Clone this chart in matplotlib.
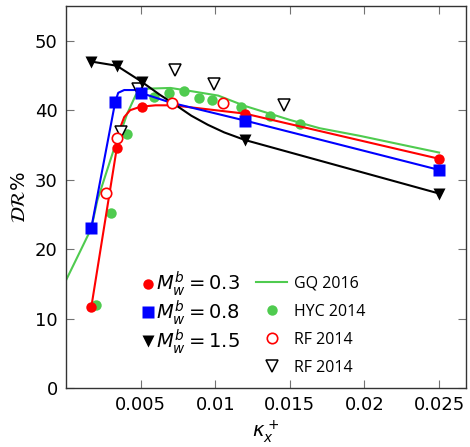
import matplotlib

matplotlib.use('Agg')

import matplotlib.pyplot as plt
from matplotlib.lines import Line2D

# simulation results, markers
kx = [0.0017, 0.0034, 0.0051, 0.0120, 0.0250]
dr_m03 = [11.7, 34.5, 40.4, 39.4, 33.0]
kx_m08 = [0.0017, 0.0033, 0.0050, 0.0120, 0.0250]
dr_m08 = [23.1, 41.2, 42.5, 38.5, 31.4]
dr_m15 = [47.0, 46.4, 44.0, 35.7, 28.0]

# fitted curves through the simulation results
curve_m03_x = [0.0017, 0.0034, 0.0036, 0.0039, 0.0043, 0.0050, 0.0060, 0.0070, 0.0080, 0.0120, 0.0250]
curve_m03_y = [11.7, 34.5, 37.3, 39.0, 40.0, 40.5, 40.7, 40.7, 40.5, 39.5, 33.0]
curve_m08_x = [0.0017, 0.0033, 0.0035, 0.0039, 0.0047, 0.0050, 0.0070, 0.0120, 0.0250]
curve_m08_y = [23.1, 41.2, 42.5, 42.9, 42.9, 42.5, 41.1, 38.5, 31.4]
curve_m15_x = [0.0017, 0.0034, 0.0050, 0.0063, 0.0071, 0.0084, 0.0095, 0.0106, 0.0120, 0.0250]
curve_m15_y = [47.0, 46.4, 44.2, 42.2, 41.1, 39.2, 37.9, 36.8, 35.7, 28.0]

# GQ 2016
gq_x = [0.0, 0.0010, 0.0017, 0.0021, 0.0027, 0.0032, 0.0037, 0.0041, 0.0047, 0.0055,
        0.0070, 0.0085, 0.0102, 0.0120, 0.0150, 0.0170, 0.0197, 0.0230, 0.0250]
gq_y = [15.5, 19.9, 23.0, 27.0, 31.0, 34.3, 37.0, 39.5, 42.3, 43.1,
        43.2, 42.7, 42.1, 40.6, 38.6, 37.4, 36.3, 34.8, 33.9]

# HYC 2014
hyc_x = [0.0020, 0.0030, 0.0041, 0.0059, 0.0069, 0.0079, 0.0089, 0.0098, 0.0117, 0.0137, 0.0157]
hyc_y = [12.0, 25.2, 36.5, 41.9, 42.5, 42.8, 41.8, 41.5, 40.4, 39.2, 38.0]

# RF 2014 (open circles)
rfc_x = [0.00266, 0.0034, 0.0071, 0.0105]
rfc_y = [28.1, 36.0, 41.1, 41.1]

# RF 2014 (open triangles)
rft_x = [0.0037, 0.0048, 0.0073, 0.0099, 0.0146]
rft_y = [36.8, 43.1, 45.8, 43.8, 40.8]

xticks = [0.005, 0.01, 0.015, 0.02, 0.025]
xticklabels = ['0.005', '0.01', '0.015', '0.02', '0.025']
yticks = [0, 10, 20, 30, 40, 50]

GREEN = '#4fcb4f'
plt.rcParams['mathtext.fontset'] = 'dejavusans'

fig = plt.figure(figsize=(4.7, 4.47), dpi=100)
ax = fig.add_axes([0.1404, 0.132, 0.851, 0.8546])

lw = 1.5
ax.plot(gq_x, gq_y, color=GREEN, lw=lw, zorder=2)
ax.plot(hyc_x, hyc_y, 'o', color=GREEN, ms=7.5, mec='none', zorder=3)
ax.plot(curve_m03_x, curve_m03_y, color='red', lw=lw, zorder=4)
ax.plot(curve_m08_x, curve_m08_y, color='blue', lw=lw, zorder=4)
ax.plot(curve_m15_x, curve_m15_y, color='black', lw=lw, zorder=4)
ax.plot(rft_x, rft_y, 'v', color='black', mfc='white', mew=1.1, ms=8.5, zorder=5)
ax.plot(rfc_x, rfc_y, 'o', color='red', mfc='white', mew=1.2, ms=7.5, zorder=5)
ax.plot(kx, dr_m03, 'o', color='red', ms=7.5, mec='none', zorder=6)
ax.plot(kx_m08, dr_m08, 's', color='blue', ms=8, mec='none', zorder=6)
ax.plot(kx, dr_m15, 'v', color='black', ms=8.5, mec='none', zorder=6)

ax.set_xlim(0, 0.0268)
ax.set_ylim(0, 55)
ax.set_xticks(xticks)
ax.set_xticklabels(xticklabels)
ax.set_yticks(yticks)
ax.tick_params(direction='in', length=5.5, width=0.8, top=True, right=True,
               labelsize=13, color='0.45', pad=6)
for s in ax.spines.values():
    s.set_linewidth(1.0)
    s.set_color('0.2')

ax.set_xlabel(r'$\kappa_x^+$', fontsize=14, labelpad=3)
ax.set_ylabel(r'$\mathcal{DR}\%$', fontsize=14, labelpad=4)

h1 = [
    Line2D([], [], ls='none', marker='o', color='red', ms=7.5, mec='none'),
    Line2D([], [], ls='none', marker='s', color='blue', ms=8, mec='none'),
    Line2D([], [], ls='none', marker='v', color='black', ms=8.5, mec='none'),
]
l1 = ax.legend(h1, [r'$M_w^b = 0.3$', r'$M_w^b = 0.8$', r'$M_w^b = 1.5$'],
               loc='upper left', bbox_to_anchor=(0.17, 0.33), frameon=False,
               fontsize=14, handlelength=0.6, handletextpad=0.15,
               labelspacing=0.0, borderaxespad=0)
ax.add_artist(l1)

h2 = [
    Line2D([], [], color=GREEN, lw=lw),
    Line2D([], [], ls='none', marker='o', color=GREEN, ms=7.5, mec='none'),
    Line2D([], [], ls='none', marker='o', color='red', mfc='white', mew=1.2, ms=7.5),
    Line2D([], [], ls='none', marker='v', color='black', mfc='white', mew=1.1, ms=8.5),
]
ax.legend(h2, ['GQ 2016', 'HYC 2014', 'RF 2014', 'RF 2014'],
          loc='upper left', bbox_to_anchor=(0.46, 0.31), frameon=False,
          prop={'family': 'Open Sans', 'size': 11.5}, handlelength=1.9,
          handletextpad=0.45, labelspacing=0.75, borderaxespad=0)

fig.savefig('out.png', dpi=100)
